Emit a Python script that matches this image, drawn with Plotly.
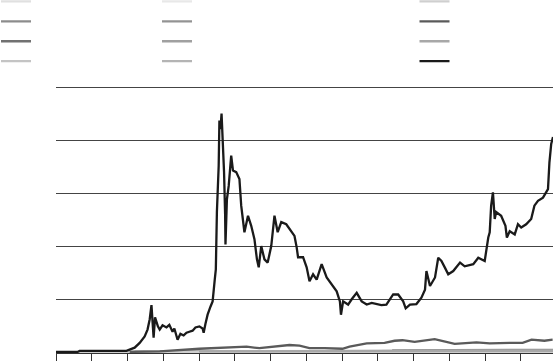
import plotly.graph_objects as go

# ---- main (black) series: x in axis-tick units, y in value units ----
main_x = [0, 0.38, 0.60, 0.66, 1.22, 1.64, 1.97, 2.20, 2.34, 2.48, 2.56, 2.62, 2.67, 2.70, 2.73, 2.77,
          2.81, 2.85, 2.90, 2.98, 3.09, 3.17, 3.26, 3.31, 3.40, 3.48, 3.57, 3.65, 3.73, 3.82, 3.90,
          4.01, 4.10, 4.13, 4.18, 4.24, 4.32, 4.38, 4.44, 4.47, 4.50, 4.55, 4.57, 4.60, 4.63, 4.67,
          4.70, 4.73, 4.74, 4.78, 4.83, 4.90, 4.95, 5.04, 5.13, 5.18, 5.27, 5.37, 5.46, 5.55, 5.62,
          5.67, 5.74, 5.83, 5.92, 6.02, 6.11, 6.20, 6.30, 6.44, 6.58, 6.67, 6.73, 6.77, 6.91, 7.01,
          7.09, 7.19, 7.29, 7.43, 7.57, 7.71, 7.85, 7.94, 7.97, 8.03, 8.17, 8.27, 8.41, 8.55, 8.69,
          8.83, 8.97, 9.10, 9.24, 9.43, 9.57, 9.71, 9.78, 9.90, 10.08, 10.22, 10.32, 10.36, 10.46,
          10.60, 10.69, 10.78, 10.88, 10.97, 11.11, 11.30, 11.43, 11.67, 11.81, 11.99, 12.09, 12.13,
          12.17, 12.22, 12.27, 12.31, 12.45, 12.57, 12.61, 12.69, 12.83, 12.92, 13.01, 13.15, 13.29,
          13.38, 13.48, 13.62, 13.76, 13.80, 13.85, 13.90]
main_y = [0.02, 0.02, 0.02, 0.04, 0.04, 0.03, 0.04, 0.10, 0.19, 0.31, 0.44, 0.63, 0.90, 0.59, 0.29, 0.67,
          0.57, 0.50, 0.44, 0.52, 0.48, 0.53, 0.40, 0.46, 0.25, 0.36, 0.33, 0.38, 0.40, 0.42, 0.48,
          0.50, 0.46, 0.38, 0.55, 0.72, 0.87, 0.97, 1.38, 1.57, 2.65, 3.52, 4.37, 4.21, 4.50, 3.90,
          3.40, 2.61, 2.04, 2.89, 3.14, 3.71, 3.43, 3.40, 3.27, 2.77, 2.27, 2.58, 2.39, 2.14, 1.76,
          1.61, 2.01, 1.76, 1.70, 2.01, 2.58, 2.27, 2.46, 2.42, 2.29, 2.20, 1.99, 1.80, 1.80, 1.61,
          1.35, 1.48, 1.38, 1.67, 1.42, 1.29, 1.16, 0.97, 0.72, 0.97, 0.91, 1.01, 1.13, 0.97, 0.91,
          0.94, 0.92, 0.90, 0.91, 1.10, 1.10, 0.97, 0.84, 0.91, 0.92, 1.04, 1.19, 1.54, 1.26,
          1.42, 1.79, 1.73, 1.60, 1.48, 1.54, 1.70, 1.63, 1.67, 1.79, 1.73, 2.17, 2.27,
          2.77, 3.02, 2.52, 2.65, 2.58, 2.39, 2.17, 2.29, 2.23, 2.42, 2.36, 2.42, 2.52,
          2.77, 2.86, 2.92, 3.08, 3.58, 3.93, 4.06]

# ---- dark grey series ----
dark_x = [2.06, 2.90, 4.01, 4.71, 5.33, 5.69, 6.06, 6.53, 6.81, 7.09, 7.51, 8.01, 8.21, 8.69, 9.19,
          9.47, 9.69, 10.03, 10.59, 10.87, 11.15, 11.76, 12.13, 12.69, 13.05, 13.30, 13.66, 13.89]
dark_y = [0.02, 0.03, 0.08, 0.10, 0.12, 0.09, 0.12, 0.15, 0.14, 0.09, 0.09, 0.08, 0.12, 0.18, 0.19,
          0.23, 0.24, 0.21, 0.26, 0.22, 0.17, 0.20, 0.18, 0.19, 0.19, 0.25, 0.23, 0.25]

# ---- low series hugging the baseline ----
low_a_x = [0, 3, 6, 9, 12, 13.9]
low_a_y = [0.01, 0.01, 0.02, 0.02, 0.02, 0.02]
low_b_x = [9.4, 11, 12.5, 13.9]
low_b_y = [0.05, 0.05, 0.06, 0.06]
low_c_x = [2.5, 6, 9, 13.9]
low_c_y = [0.01, 0.02, 0.03, 0.04]
low_d_x = [1.8, 5, 9, 13.9]
low_d_y = [0.02, 0.03, 0.03, 0.03]
low_e_x = [0, 4, 8, 13.9]
low_e_y = [0.01, 0.01, 0.01, 0.01]
low_f_x = [2, 6, 10, 13.9]
low_f_y = [0.02, 0.03, 0.04, 0.05]
low_g_x = [3, 7, 11, 13.9]
low_g_y = [0.02, 0.02, 0.03, 0.03]
low_h_x = [2.2, 6, 10, 13.9]
low_h_y = [0.03, 0.03, 0.03, 0.04]
low_i_x = [0, 5, 10, 13.9]
low_i_y = [0.01, 0.02, 0.02, 0.02]
low_j_x = [4, 8, 12, 13.9]
low_j_y = [0.03, 0.04, 0.04, 0.04]

x_ticks = list(range(14))
y_ticks = [0, 1, 2, 3, 4, 5]

series = [
    (low_a_x, low_a_y, "#e0e0e0", "legend"),
    (low_b_x, low_b_y, "#8c8c8c", "legend"),
    (low_c_x, low_c_y, "#717171", "legend"),
    (low_d_x, low_d_y, "#c4c4c4", "legend"),
    (low_e_x, low_e_y, "#e8e8e8", "legend2"),
    (low_f_x, low_f_y, "#939393", "legend2"),
    (low_g_x, low_g_y, "#a0a0a0", "legend2"),
    (low_h_x, low_h_y, "#b4b4b4", "legend2"),
    (low_i_x, low_i_y, "#cfcfcf", "legend3"),
    (dark_x, dark_y, "#5a5a5a", "legend3"),
    (low_j_x, low_j_y, "#a8a8a8", "legend3"),
    (main_x, main_y, "#1a1a1a", "legend3"),
]

fig = go.Figure()
for xs, ys, col, lg in series:
    fig.add_trace(go.Scatter(x=xs, y=ys, mode="lines", name=" ",
                             line=dict(color=col, width=2.3), legend=lg))

# plot area: x 56..553, y 85..353 (px)
PW, PH, TOP = 497, 268, 85


def px_x(p):
    return (p - 56) / PW


def px_y(p):
    return (TOP + PH - p) / PH


leg_common = dict(orientation="v", xref="paper", yref="paper",
                  xanchor="left", yanchor="top", bgcolor="rgba(0,0,0,0)",
                  font=dict(size=13, color="#ffffff"), tracegroupgap=0)
fig.update_layout(
    width=554, height=361,
    margin=dict(l=56, r=1, t=TOP, b=361 - TOP - PH, autoexpand=False),
    paper_bgcolor="white", plot_bgcolor="white",
    legend=dict(x=px_x(-4), y=px_y(-13.5), **leg_common),
    legend2=dict(x=px_x(157), y=px_y(-13.5), **leg_common),
    legend3=dict(x=px_x(414.5), y=px_y(-13.5), **leg_common),
    xaxis=dict(range=[0, 13.9], tickvals=x_ticks, showticklabels=False, ticks="outside",
               ticklen=8, tickcolor="#333", showgrid=False, zeroline=False,
               showline=True, linecolor="#333", linewidth=1),
    yaxis=dict(range=[0, 5 + 2 / 53.2], tickvals=y_ticks, showticklabels=False, ticks="",
               showgrid=True, gridcolor="#444", gridwidth=1, zeroline=False, showline=False),
    showlegend=True,
)
fig.write_html("out.html")
